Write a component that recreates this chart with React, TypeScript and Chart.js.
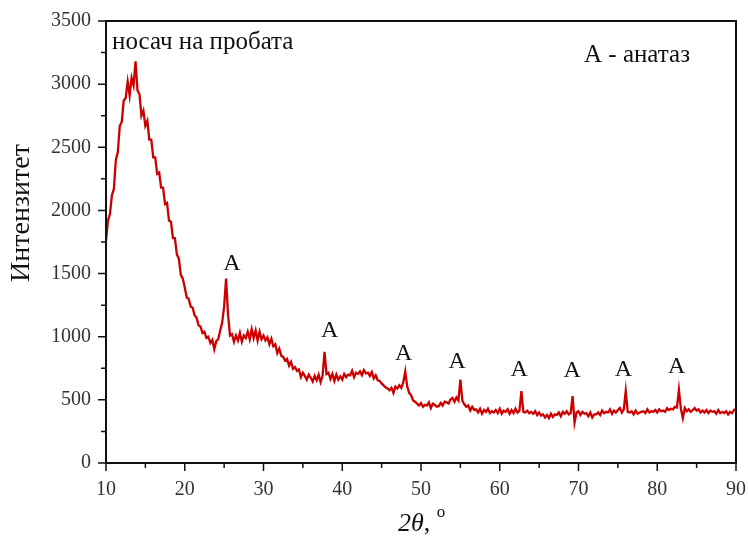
import { useEffect, useRef } from 'react';
import { Chart, registerables } from 'chart.js';

Chart.register(...registerables);

// Diffraction scan: 2θ from 10° to 90° sampled every 0.25°
const angleStart = 10;
const angleStep = 0.25;

const intensity10to20 = [
  1760, 1920, 1970, 2120, 2170, 2400, 2460, 2670, 2700, 2870,
  2890, 3020, 2910, 3050, 2990, 3180, 2950, 2920, 2750, 2790,
  2670, 2710, 2560, 2560, 2420, 2420, 2290, 2300, 2180, 2180,
  2050, 2060, 1920, 1910, 1780, 1780, 1650, 1620, 1490, 1460,
];
const intensity20to30 = [
  1390, 1310, 1300, 1240, 1230, 1170, 1150, 1090, 1080, 1030,
  1040, 990, 1000, 950, 975, 900, 965, 980, 1050, 1110,
  1240, 1460, 1170, 1010, 1020, 960, 1010, 970, 1030, 960,
  1010, 990, 1040, 980, 1060, 990, 1050, 970, 1040, 980,
];
const intensity30to40 = [
  1010, 970, 995, 940, 985, 925, 940, 870, 905, 850,
  840, 810, 825, 770, 800, 745, 760, 730, 740, 680,
  715, 690, 660, 700, 675, 645, 690, 655, 700, 640,
  690, 880, 705, 715, 665, 705, 650, 700, 660, 685,
];
const intensity40to50 = [
  660, 705, 680, 700, 695, 730, 680, 715, 705, 725,
  695, 735, 710, 715, 690, 720, 670, 695, 655, 650,
  630, 615, 600, 590, 575, 595, 555, 605, 590, 615,
  595, 640, 725, 605, 555, 535, 495, 485, 470, 455,
];
const intensity50to60 = [
  475, 445, 460, 455, 480, 435, 470, 460, 445, 450,
  475, 455, 485, 480, 470, 505, 515, 485, 520, 495,
  660, 495, 465, 445, 455, 415, 445, 420, 425, 400,
  430, 390, 420, 405, 430, 395, 410, 400, 420, 395,
];
const intensity60to70 = [
  430, 390, 415, 405, 425, 390, 420, 395, 430, 400,
  415, 570, 405, 400, 415, 395, 405, 390, 410, 380,
  400, 375, 385, 360, 380, 355, 390, 365, 385, 380,
  400, 370, 405, 390, 410, 385, 395, 530, 320, 400,
];
const intensity70to80 = [
  410, 380, 405, 390, 395, 370, 400, 360, 385, 385,
  400, 380, 415, 395, 405, 400, 425, 390, 415, 400,
  420, 435, 400, 425, 570, 405, 400, 410, 385, 415,
  390, 400, 405, 410, 395, 425, 400, 410, 405, 420,
];
const intensity80to90 = [
  400, 425, 410, 415, 405, 435, 420, 430, 425, 445,
  440, 580, 430, 355, 435, 410, 425, 405, 420, 435,
  415, 425, 400, 415, 400, 420, 395, 415, 405, 410,
  390, 420, 395, 405, 395, 410, 385, 405, 395, 420,
  430,
];

// Anatase reflection markers
const anataseLabelAngles = [26.0, 38.4, 47.8, 54.6, 62.45, 69.2, 75.7, 82.45];
const anataseLabelHeights = [1580, 1048, 869, 802, 736, 731, 736, 763];

const xTicks = [10, 20, 30, 40, 50, 60, 70, 80, 90];
const yTicks = [0, 500, 1000, 1500, 2000, 2500, 3000, 3500];

const serif = '"Liberation Serif", "DejaVu Serif", serif';

const intensity = [
  ...intensity10to20,
  ...intensity20to30,
  ...intensity30to40,
  ...intensity40to50,
  ...intensity50to60,
  ...intensity60to70,
  ...intensity70to80,
  ...intensity80to90,
];

const framePlugin = {
  id: 'frameAndNotes',
  afterDraw(chart: any) {
    const { ctx, chartArea } = chart;
    const { left, right, top, bottom } = chartArea;
    const xs = chart.scales.x;
    const ys = chart.scales.y;
    ctx.save();
    ctx.strokeStyle = '#111';
    ctx.lineWidth = 2;
    ctx.strokeRect(left, top, right - left, bottom - top);

    // major and minor tick marks, pointing outward
    ctx.lineWidth = 1.5;
    ctx.beginPath();
    for (let v = xTicks[0]; v <= xTicks[xTicks.length - 1]; v += 5) {
      const px = xs.getPixelForValue(v);
      const len = v % 10 === 0 ? 8 : 5;
      ctx.moveTo(px, bottom);
      ctx.lineTo(px, bottom + len);
    }
    for (let v = yTicks[0]; v <= yTicks[yTicks.length - 1]; v += 250) {
      const py = ys.getPixelForValue(v);
      const len = v % 500 === 0 ? 8 : 5;
      ctx.moveTo(left, py);
      ctx.lineTo(left - len, py);
    }
    ctx.stroke();

    // peak markers
    ctx.fillStyle = '#111';
    ctx.font = `24px ${serif}`;
    ctx.textAlign = 'center';
    ctx.textBaseline = 'middle';
    anataseLabelAngles.forEach((a, i) => {
      ctx.fillText('A', xs.getPixelForValue(a), ys.getPixelForValue(anataseLabelHeights[i]));
    });

    // notes inside the plot
    ctx.textAlign = 'left';
    ctx.font = `25px ${serif}`;
    ctx.fillText('носач на пробата', left + 6, top + 21);
    ctx.fillText('A - анатаз', 584, top + 34);

    // y axis title
    ctx.save();
    ctx.translate(22, 213);
    ctx.rotate(-Math.PI / 2);
    ctx.textAlign = 'center';
    ctx.font = `28px ${serif}`;
    ctx.fillText('Интензитет', 0, 0);
    ctx.restore();

    // x axis title: italic 2θ, then superscript degree mark
    ctx.textAlign = 'left';
    ctx.textBaseline = 'alphabetic';
    ctx.font = `italic 26px ${serif}`;
    const main = '2θ';
    let x0 = 398;
    const base = 531;
    ctx.fillText(main, x0, base);
    x0 += ctx.measureText(main).width;
    ctx.font = `26px ${serif}`;
    ctx.fillText(',', x0, base);
    x0 += ctx.measureText(', ').width;
    ctx.font = `17px ${serif}`;
    ctx.fillText('o', x0, base - 14);
    ctx.restore();
  },
};

export default function App() {
  const canvasRef = useRef<HTMLCanvasElement | null>(null);

  useEffect(() => {
    if (!canvasRef.current) return;
    const points = intensity.map((y, i) => ({ x: angleStart + i * angleStep, y }));
    const chart = new Chart(canvasRef.current, {
      type: 'line',
      data: {
        datasets: [
          {
            data: points,
            borderColor: '#cc0000',
            borderWidth: 2.3,
            pointRadius: 0,
            tension: 0,
          },
        ],
      },
      options: {
        responsive: false,
        animation: false,
        layout: { autoPadding: false, padding: { left: 0, right: 12, top: 21, bottom: 0 } },
        plugins: { legend: { display: false }, tooltip: { enabled: false } },
        scales: {
          x: {
            type: 'linear',
            min: 10,
            max: 90,
            afterBuildTicks: (s: any) => {
              s.ticks = xTicks.map((v) => ({ value: v }));
            },
            afterFit: (s: any) => {
              s.height = 78;
              s.paddingLeft = 0;
              s.paddingRight = 0;
            },
            grid: { display: false, drawTicks: false },
            border: { display: false },
            ticks: {
              color: '#333',
              font: { family: serif, size: 20 },
              padding: 15,
              maxRotation: 0,
              callback: (v: any) => String(v),
            },
          },
          y: {
            type: 'linear',
            min: 0,
            max: 3500,
            afterBuildTicks: (s: any) => {
              s.ticks = yTicks.map((v) => ({ value: v }));
            },
            afterFit: (s: any) => {
              s.width = 106;
              s.paddingTop = 0;
              s.paddingBottom = 0;
            },
            grid: { display: false, drawTicks: false },
            border: { display: false },
            ticks: {
              color: '#333',
              font: { family: serif, size: 20 },
              padding: 15,
              callback: (v: any) => String(v),
            },
          },
        },
      },
      plugins: [framePlugin],
    });
    return () => chart.destroy();
  }, []);

  return (
    <div style={{ position: 'absolute', left: 0, top: 0, width: 748, height: 541, background: '#fff' }}>
      <canvas ref={canvasRef} width={748} height={541} />
    </div>
  );
}
